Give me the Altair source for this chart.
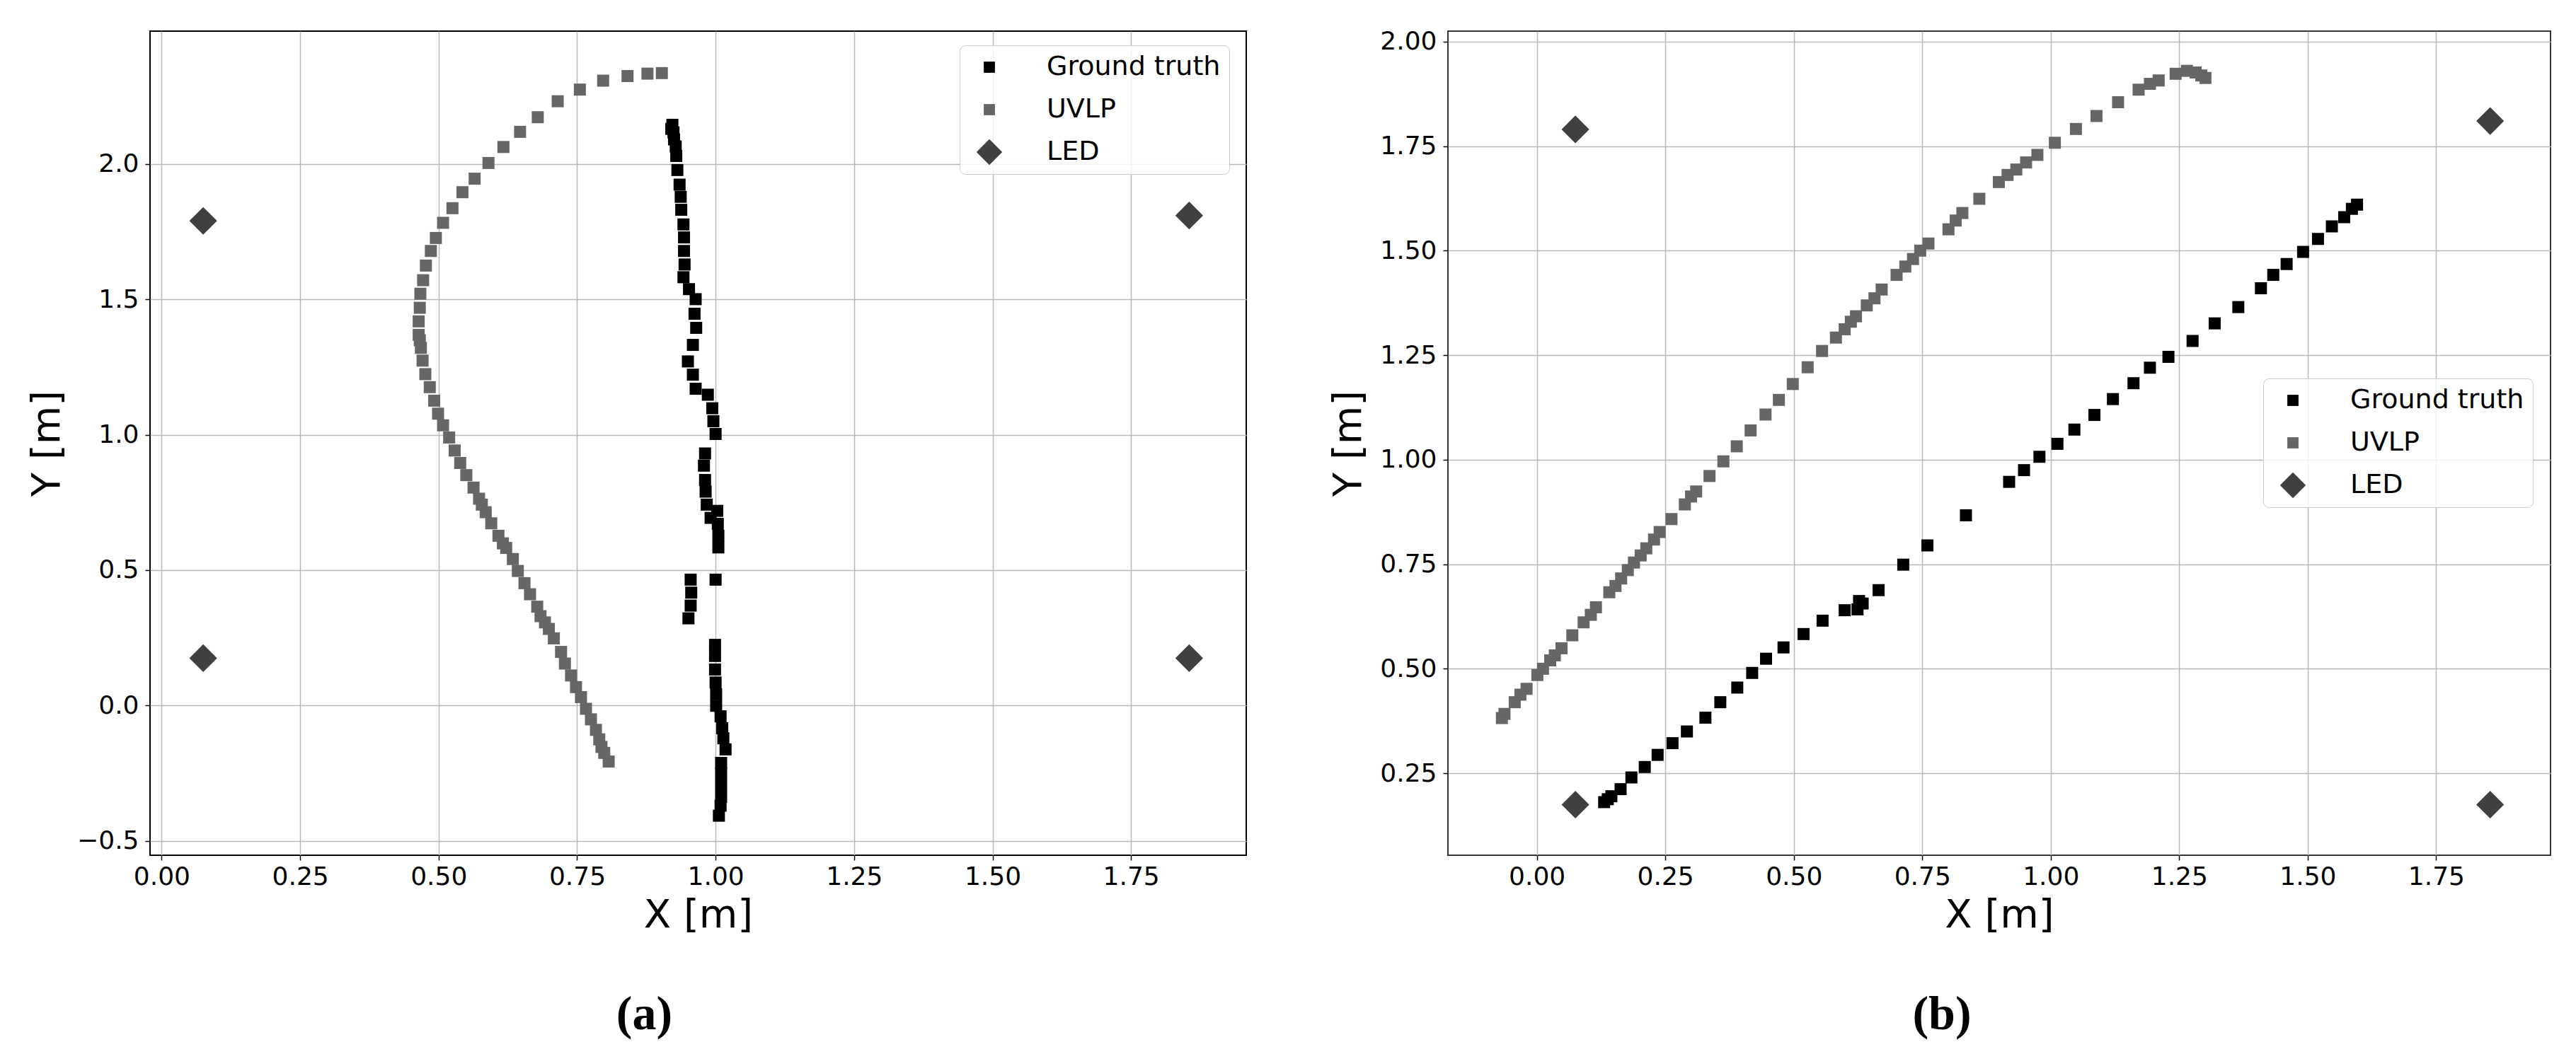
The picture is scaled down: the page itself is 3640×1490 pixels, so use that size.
import altair as alt
import pandas as pd

# ---------------- data ----------------
SERIES = ["Ground truth", "UVLP", "LED"]
COLORS = ["#000000", "#666666", "#404040"]
# squares for the two trajectories, a larger diamond for the LEDs
SHAPES = ["square", "square", "M-2.3,0L0,-2.3L2.3,0L0,2.3Z"]

led_x = [0.075, 1.855, 0.075, 1.855]
led_y = [1.79, 1.81, 0.175, 0.175]

# panel (a)
a_gt_x = [0.922, 0.920, 0.924, 0.925, 0.928, 0.929, 0.931, 0.935, 0.937, 0.938,
          0.942, 0.943, 0.943, 0.944, 0.942, 0.952, 0.964, 0.962, 0.965, 0.959,
          0.950, 0.959, 0.964, 0.986, 0.994, 0.996, 1.000, 0.981, 0.979, 0.981,
          0.982, 0.984, 0.991, 1.003, 1.004, 1.005, 1.005, 1.000, 0.955, 0.956,
          0.955, 0.951, 0.999, 0.999, 0.999, 1.000, 1.001, 1.001, 1.009, 1.012,
          1.014, 1.018, 1.010, 1.010, 1.010, 1.010, 1.009, 1.006]
a_gt_y = [2.145, 2.130, 2.117, 2.091, 2.065, 2.030, 1.978, 1.924, 1.879, 1.831,
          1.777, 1.729, 1.679, 1.629, 1.582, 1.538, 1.501, 1.447, 1.395, 1.332,
          1.271, 1.222, 1.170, 1.148, 1.098, 1.050, 1.003, 0.931, 0.886, 0.833,
          0.790, 0.742, 0.693, 0.719, 0.671, 0.627, 0.584, 0.465, 0.465, 0.417,
          0.369, 0.322, 0.224, 0.183, 0.133, 0.085, 0.042, -0.001, -0.040, -0.084,
          -0.121, -0.162, -0.212, -0.251, -0.294, -0.337, -0.370, -0.407]

a_uv_x = [0.903, 0.877, 0.841, 0.797, 0.755, 0.715, 0.679, 0.647, 0.617, 0.590,
          0.565, 0.543, 0.525, 0.508, 0.495, 0.486, 0.477, 0.472, 0.467, 0.466,
          0.464, 0.464, 0.466, 0.468, 0.471, 0.476, 0.484, 0.492, 0.499, 0.508,
          0.519, 0.529, 0.539, 0.550, 0.563, 0.573, 0.578, 0.585, 0.595, 0.608,
          0.616, 0.622, 0.634, 0.643, 0.655, 0.665, 0.678, 0.684, 0.692, 0.699,
          0.708, 0.721, 0.728, 0.739, 0.748, 0.757, 0.766, 0.775, 0.784, 0.790,
          0.794, 0.799, 0.807]
a_uv_y = [2.336, 2.334, 2.325, 2.308, 2.275, 2.232, 2.173, 2.119, 2.063, 2.004,
          1.946, 1.896, 1.837, 1.783, 1.727, 1.679, 1.625, 1.571, 1.521, 1.469,
          1.419, 1.369, 1.349, 1.321, 1.274, 1.224, 1.176, 1.126, 1.078, 1.035,
          0.990, 0.942, 0.896, 0.851, 0.805, 0.764, 0.742, 0.714, 0.673, 0.627,
          0.599, 0.582, 0.541, 0.497, 0.452, 0.411, 0.365, 0.330, 0.307, 0.283,
          0.248, 0.198, 0.155, 0.111, 0.068, 0.031, -0.012, -0.051, -0.090, -0.125,
          -0.153, -0.175, -0.207]

# panel (b)
b_gt_x = [0.131, 0.138, 0.145, 0.163, 0.184, 0.210, 0.235, 0.264, 0.292, 0.328,
          0.357, 0.390, 0.419, 0.446, 0.480, 0.519, 0.556, 0.599, 0.624, 0.627,
          0.634, 0.665, 0.713, 0.760, 0.835, 0.919, 0.948, 0.978, 1.013, 1.046,
          1.085, 1.121, 1.161, 1.193, 1.229, 1.276, 1.319, 1.365, 1.409, 1.433,
          1.459, 1.491, 1.520, 1.547, 1.571, 1.586, 1.596]
b_gt_y = [0.181, 0.188, 0.195, 0.212, 0.240, 0.265, 0.294, 0.322, 0.350, 0.383,
          0.420, 0.455, 0.490, 0.524, 0.551, 0.583, 0.615, 0.640, 0.642, 0.662,
          0.656, 0.688, 0.749, 0.795, 0.867, 0.947, 0.975, 1.007, 1.038, 1.072,
          1.107, 1.145, 1.183, 1.220, 1.246, 1.284, 1.326, 1.365, 1.410, 1.442,
          1.468, 1.497, 1.528, 1.558, 1.580, 1.600, 1.610]

b_uv_x = [-0.068, -0.063, -0.043, -0.032, -0.020, 0.001, 0.012, 0.026, 0.035, 0.048,
          0.069, 0.091, 0.105, 0.115, 0.141, 0.153, 0.164, 0.177, 0.189, 0.202,
          0.213, 0.228, 0.239, 0.262, 0.288, 0.300, 0.310, 0.336, 0.363, 0.389,
          0.416, 0.445, 0.471, 0.498, 0.527, 0.555, 0.582, 0.599, 0.611, 0.621,
          0.642, 0.657, 0.671, 0.700, 0.717, 0.732, 0.746, 0.762, 0.801, 0.815,
          0.828, 0.861, 0.899, 0.916, 0.933, 0.952, 0.974, 1.008, 1.049, 1.089,
          1.131, 1.171, 1.193, 1.210, 1.243, 1.265, 1.282, 1.293, 1.301]
b_uv_y = [0.382, 0.392, 0.420, 0.438, 0.452, 0.485, 0.500, 0.520, 0.532, 0.549,
          0.580, 0.611, 0.629, 0.647, 0.683, 0.698, 0.716, 0.736, 0.754, 0.771,
          0.788, 0.809, 0.827, 0.858, 0.893, 0.912, 0.924, 0.961, 0.996, 1.032,
          1.070, 1.108, 1.143, 1.181, 1.221, 1.260, 1.292, 1.312, 1.330, 1.343,
          1.369, 1.386, 1.407, 1.442, 1.462, 1.480, 1.500, 1.517, 1.551, 1.572,
          1.590, 1.624, 1.664, 1.681, 1.694, 1.711, 1.729, 1.758, 1.791, 1.822,
          1.855, 1.885, 1.899, 1.907, 1.923, 1.930, 1.926, 1.919, 1.913]

x_ticks = [0.0, 0.25, 0.5, 0.75, 1.0, 1.25, 1.5, 1.75]
a_y_ticks = [-0.5, 0.0, 0.5, 1.0, 1.5, 2.0]
b_y_ticks = [0.25, 0.5, 0.75, 1.0, 1.25, 1.5, 1.75, 2.0]


def frame(gx, gy, ux, uy):
    rows = []
    for name, xs, ys in (("Ground truth", gx, gy), ("UVLP", ux, uy), ("LED", led_x, led_y)):
        for xv, yv in zip(xs, ys):
            rows.append({"x": xv, "y": yv, "series": name})
    return pd.DataFrame(rows)


FONT = "DejaVu Sans"


def panel(df, xdom, ydom, yticks, yfmt, ytitle_x, lx, ly, width, caption, cap_dx, frame_color):
    legend = alt.Legend(
        orient="none", legendX=lx, legendY=ly, title=None,
        padding=12, symbolOffset=11, labelOffset=62, rowPadding=22,
        symbolSize=250, symbolStrokeWidth=0,
        labelFont=FONT, labelFontSize=38, labelColor="black", labelLimit=600,
        fillColor="rgba(255,255,255,0.8)", strokeColor="#cccccc", cornerRadius=8,
    )
    xaxis = alt.Axis(values=x_ticks, format=".2f", title="X [m]",
                     titleY=101, titleBaseline="alphabetic",
                     labelFlush=False, labelOverlap=False, labelPadding=6)
    yaxis = alt.Axis(values=yticks, format=yfmt, title="Y [m]",
                     titleX=ytitle_x, titleBaseline="alphabetic", titleAngle=270,
                     labelFlush=False, labelOverlap=False, labelPadding=9)
    return alt.Chart(df).mark_point(filled=True, opacity=1, strokeWidth=0, size=289).encode(
        x=alt.X("x:Q", scale=alt.Scale(domain=xdom, nice=False, zero=False), axis=xaxis),
        y=alt.Y("y:Q", scale=alt.Scale(domain=ydom, nice=False, zero=False), axis=yaxis),
        color=alt.Color("series:N", scale=alt.Scale(domain=SERIES, range=COLORS), legend=legend),
        shape=alt.Shape("series:N", scale=alt.Scale(domain=SERIES, range=SHAPES), legend=legend),
    ).properties(
        width=width, height=1165,
        view=alt.ViewBackground(stroke=frame_color, strokeWidth=2),
        title=alt.TitleParams(caption, orient="bottom", anchor="middle", offset=80, dx=cap_dx,
                              font="Liberation Serif", fontWeight="bold", fontSize=68,
                              color="black"),
    )


left = panel(frame(a_gt_x, a_gt_y, a_uv_x, a_uv_y), [-0.021, 1.958], [-0.553, 2.491],
             a_y_ticks, ".1f", -129, 1144, 20, 1549, "(a)", -76, "#000000")
right = panel(frame(b_gt_x, b_gt_y, b_uv_x, b_uv_y), [-0.173, 1.9725], [0.054, 2.025],
              b_y_ticks, ".2f", -124, 1152, 491, 1558, "(b)", -81, "#333333")

chart = alt.hconcat(left, right, spacing=285, bounds="flush").resolve_scale(
    color="independent", shape="independent",
).resolve_legend(
    color="independent", shape="independent",
).properties(
    padding={"left": 29, "top": 31, "right": 5, "bottom": 5},
    background="white",
).configure_view(
    stroke="black", strokeWidth=2,
).configure_axis(
    labelFont=FONT, labelFontSize=36, labelColor="black",
    titleFont=FONT, titleFontSize=56, titleFontWeight="normal", titleColor="black",
    tickColor="black", tickSize=7, tickWidth=1.5,
    grid=True, gridColor="#b8b8b8", gridWidth=1.5,
    domain=False,
)

chart.save("out.html", embed_options={"renderer": "svg", "actions": False})
